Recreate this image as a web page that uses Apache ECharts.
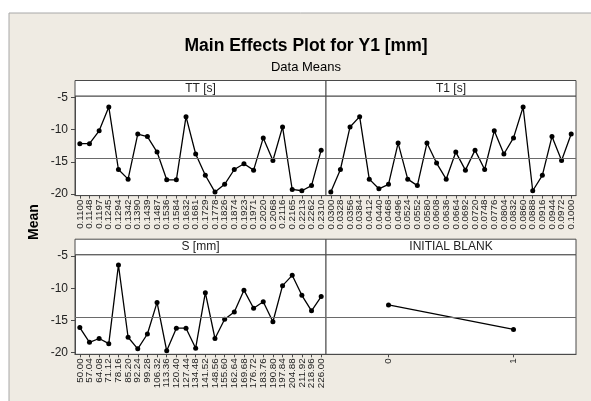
<!DOCTYPE html>
<html><head><meta charset="utf-8">
<script src="https://cdn.jsdelivr.net/npm/echarts@6/dist/echarts.min.js"></script>
<style>html,body{margin:0;padding:0;background:#fff}#c{width:591px;height:401px}</style>
</head><body><div id="c"></div>
<script>
const ttLevels = ['0.1100','0.1148','0.1197','0.1245','0.1294','0.1342','0.1390','0.1439','0.1487','0.1536','0.1584','0.1632','0.1681','0.1729','0.1778','0.1826','0.1874','0.1923','0.1971','0.2020','0.2068','0.2116','0.2165','0.2213','0.2262','0.2310'];
const ttMeans = [-12.2,-12.2,-10.2,-6.5,-16.2,-17.7,-10.7,-11.1,-13.5,-17.8,-17.8,-8.0,-13.8,-17.1,-19.7,-18.5,-16.2,-15.3,-16.3,-11.3,-14.8,-9.6,-19.3,-19.5,-18.7,-13.2];
const t1Levels = ['0.0300','0.0328','0.0356','0.0384','0.0412','0.0440','0.0468','0.0496','0.0524','0.0552','0.0580','0.0608','0.0636','0.0664','0.0692','0.0720','0.0748','0.0776','0.0804','0.0832','0.0860','0.0888','0.0916','0.0944','0.0972','0.1000'];
const t1Means = [-19.7,-16.2,-9.6,-8.0,-17.7,-19.2,-18.5,-12.1,-17.7,-18.7,-12.1,-15.2,-17.7,-13.5,-16.3,-13.2,-16.2,-10.2,-13.8,-11.3,-6.5,-19.5,-17.1,-11.1,-14.8,-10.7];
const sLevels = ['50.00','57.04','64.08','71.12','78.16','85.20','92.24','99.28','106.32','113.36','120.40','127.44','134.48','141.52','148.56','155.60','162.64','169.68','176.72','183.76','190.80','197.84','204.88','211.92','218.96','226.00'];
const sMeans = [-16.1,-18.4,-17.8,-18.6,-6.4,-17.6,-19.4,-17.1,-12.2,-19.7,-16.2,-16.2,-19.3,-10.7,-17.8,-14.8,-13.7,-10.3,-13.1,-12.1,-15.2,-9.6,-8.0,-11.1,-13.5,-11.3];
const ibLevels = ['0','1'];
const ibMeans = [-12.6,-16.4];
const grandMean = -14.5;
const yTicks = [-20,-15,-10,-5];
const panelTitles = ['TT [s]','T1 [s]','S [mm]','INITIAL BLANK'];

const levels = [ttLevels, t1Levels, sLevels, ibLevels];
const means = [ttMeans, t1Means, sMeans, ibMeans];

const FONT = 'Liberation Sans, Arial, sans-serif';
const BORDER = '#4a4a4a';
const panels = [
  {left:75, top:96, width:251, height:99.6},
  {left:326, top:96, width:250, height:99.6},
  {left:75, top:254.7, width:251, height:99.6},
  {left:326, top:254.7, width:250, height:99.6}
];
const HEAD = 15.5;

const grids = panels.map(p => ({left:p.left, top:p.top, width:p.width, height:p.height,
  show:true, backgroundColor:'#fff', borderColor:BORDER, borderWidth:1, containLabel:false}));

const xAxes = panels.map((p,i) => ({
  type:'category', gridIndex:i, data:levels[i], boundaryGap:true,
  axisLine:{show:true, lineStyle:{color:BORDER, width:1}},
  axisTick:{show:true, alignWithLabel:true, length:3, lineStyle:{color:BORDER}},
  axisLabel:{show:true, interval:0, rotate:90, fontSize:9.8, fontFamily:FONT, color:'#222', margin:4}
}));

const yAxes = panels.map((p,i) => {
  const showLab = (i % 2 === 0);
  return {
    type:'value', gridIndex:i, min:-20.25, max:-4.8,
    splitLine:{show:false},
    axisLine:{show:showLab, lineStyle:{color:BORDER}},
    axisTick:{show:showLab, length:4, customValues:yTicks, lineStyle:{color:BORDER}},
    axisLabel:{show:showLab, customValues:yTicks, fontSize:12, fontFamily:FONT, color:'#222', margin:7}
  };
});

const series = panels.map((p,i) => ({
  type:'line', xAxisIndex:i, yAxisIndex:i, data:means[i],
  symbol:'circle', symbolSize:5, showSymbol:true,
  lineStyle:{color:'#000', width:1.3}, itemStyle:{color:'#000'},
  markLine:{silent:true, symbol:'none', label:{show:false},
    lineStyle:{color:'#6a6a6a', type:'solid', width:1},
    data:[{yAxis:grandMean}]},
  z:3
}));

const graphics = [
  {type:'rect', z:-10, shape:{x:9, y:13, width:600, height:400},
   style:{fill:'#efebe3', stroke:'#a8a8a8', lineWidth:1}},
  {type:'text', z:10, x:306, y:46, style:{text:'Main Effects Plot for Y1 [mm]', font:'bold 17.5px ' + FONT,
   fill:'#000', textAlign:'center', textVerticalAlign:'middle'}},
  {type:'text', z:10, x:306, y:67, style:{text:'Data Means', font:'13px ' + FONT,
   fill:'#000', textAlign:'center', textVerticalAlign:'middle'}},
  {type:'text', z:10, x:34, y:222, rotation:Math.PI/2, style:{text:'Mean', font:'bold 14px ' + FONT,
   fill:'#000', textAlign:'center', textVerticalAlign:'middle'}}
];
panels.forEach((p,i) => {
  graphics.push({type:'rect', z:10, shape:{x:p.left, y:p.top-HEAD, width:p.width, height:HEAD},
    style:{fill:'#fff', stroke:BORDER, lineWidth:1}});
  graphics.push({type:'text', z:11, x:p.left + p.width/2, y:p.top - HEAD/2,
    style:{text:panelTitles[i], font:'12px ' + FONT, fill:'#222', textAlign:'center', textVerticalAlign:'middle'}});
});

const chart = echarts.init(document.getElementById('c'), null, {renderer:'canvas'});
chart.setOption({
  animation:false,
  backgroundColor:'#fff',
  grid:grids, xAxis:xAxes, yAxis:yAxes, series:series, graphic:graphics
});
</script></body></html>
